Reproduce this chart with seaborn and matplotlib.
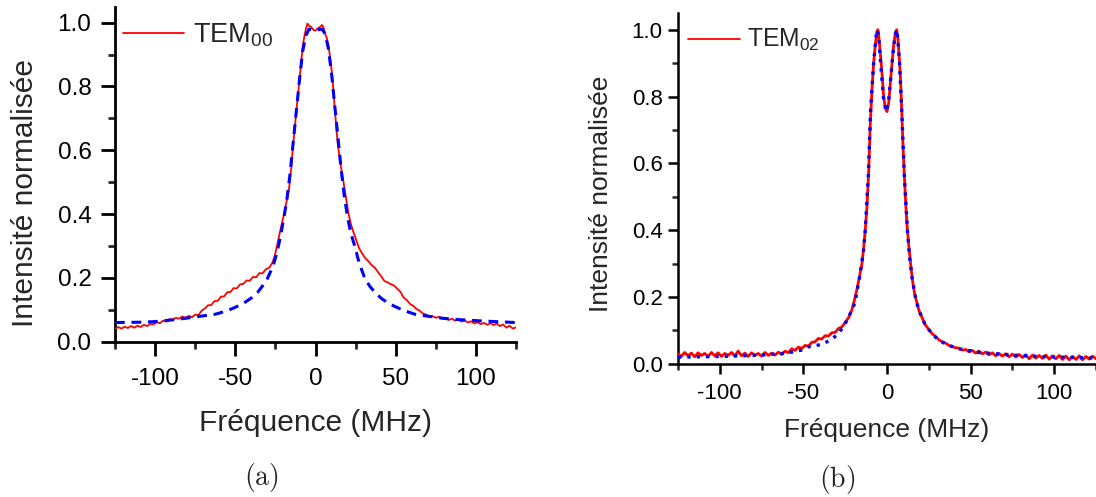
import matplotlib
matplotlib.use("Agg")
import matplotlib.pyplot as plt
import seaborn as sns
from matplotlib.ticker import MultipleLocator

# ---- panel (a) : TEM00, experimental trace (red) and fit (blue dashed)
freq_a = [-125, -123, -121, -119, -117, -115, -113, -111, -109, -107, -105, -103, -101,
          -99, -97, -95, -93, -91, -89, -87, -85, -83, -81, -79, -77, -75, -73, -71,
          -69, -67, -65, -63, -61, -59, -57, -55, -53, -51, -49, -47, -45, -43, -41,
          -39, -37, -35, -33, -31, -29, -27, -25.5, -24, -22.5, -21, -19.5, -18, -16.5,
          -15, -14, -12, -10, -8, -7, -6, -5, -4, -3, -2, -1, 0, 1, 2, 3, 4, 5, 6, 7,
          8, 9, 10.5, 12, 13.8, 15.5, 17.3, 19, 20.5, 22, 23.5, 25, 27, 29, 31, 33, 35,
          37, 39, 41, 43, 45, 47, 49, 51, 53, 55, 57, 59, 61, 63, 65, 67, 69, 71, 73,
          75, 77, 79, 81, 83, 85, 87, 89, 91, 93, 95, 97, 99, 101, 103, 105, 107, 109,
          111, 113, 115, 117, 119, 121, 123, 125]
mesure_a = [0.040, 0.046, 0.041, 0.047, 0.043, 0.049, 0.044, 0.050, 0.046, 0.053, 0.049,
            0.056, 0.054, 0.061, 0.058, 0.066, 0.063, 0.071, 0.068, 0.075, 0.072, 0.079,
            0.075, 0.081, 0.077, 0.085, 0.083, 0.097, 0.104, 0.114, 0.115, 0.127, 0.128,
            0.141, 0.142, 0.155, 0.156, 0.168, 0.167, 0.180, 0.181, 0.192, 0.191, 0.203,
            0.202, 0.215, 0.214, 0.227, 0.231, 0.246, 0.268, 0.300, 0.336, 0.370, 0.402,
            0.440, 0.480, 0.550, 0.615, 0.720, 0.820, 0.925, 0.955, 0.980, 0.997, 0.990,
            0.988, 0.982, 0.976, 0.975, 0.980, 0.984, 0.987, 0.993, 0.985, 0.965, 0.952,
            0.930, 0.895, 0.832, 0.730, 0.623, 0.560, 0.505, 0.450, 0.403, 0.370, 0.345,
            0.325, 0.295, 0.277, 0.262, 0.252, 0.240, 0.232, 0.218, 0.205, 0.190, 0.186,
            0.180, 0.176, 0.166, 0.156, 0.138, 0.130, 0.118, 0.112, 0.102, 0.097, 0.088,
            0.085, 0.079, 0.080, 0.075, 0.078, 0.072, 0.075, 0.068, 0.072, 0.066, 0.070,
            0.063, 0.067, 0.060, 0.064, 0.057, 0.061, 0.055, 0.059, 0.053, 0.058, 0.052,
            0.057, 0.049, 0.054, 0.044, 0.050, 0.041, 0.045]

freq_fit_a = [-125, -110, -100, -90, -80, -75, -70, -62.5, -55, -50, -45, -40, -36, -33,
              -30, -28, -26, -24, -22, -20, -18, -16, -14, -12, -10, -8, -6, -4, -2, 0,
              2, 4, 6, 8, 10, 12, 14, 16, 18, 20, 22, 24.6, 26.5, 28.8, 31, 34, 37, 41,
              45, 49.6, 55, 62, 70, 80, 90, 100, 112, 125]
fit_a = [0.060, 0.061, 0.063, 0.068, 0.074, 0.078, 0.081, 0.086, 0.097, 0.108, 0.120,
         0.137, 0.155, 0.175, 0.198, 0.220, 0.245, 0.280, 0.325, 0.380, 0.440, 0.520,
         0.620, 0.720, 0.820, 0.910, 0.960, 0.980, 0.978, 0.975, 0.978, 0.980, 0.965,
         0.920, 0.840, 0.740, 0.640, 0.540, 0.455, 0.390, 0.340, 0.298, 0.260, 0.225,
         0.195, 0.173, 0.155, 0.136, 0.122, 0.110, 0.098, 0.086, 0.080, 0.073, 0.069,
         0.066, 0.063, 0.060]

# ---- panel (b) : TEM02
freq_b = [-125, -123, -121, -119, -117, -115, -113, -111, -109, -107, -105, -103, -101,
          -99, -97, -95, -93, -91, -89, -87, -85, -83, -81, -79, -77, -75, -73, -71, -69,
          -67, -65, -63, -61, -59, -57, -55, -53, -51, -49, -47, -45, -43, -41, -39, -37,
          -35, -33, -31, -29, -27, -25, -23, -21, -19.5, -18, -16.5, -15, -14, -13, -12,
          -11, -10, -9, -8, -7, -6, -5.5, -5, -4, -3, -2, -1, 0, 1, 2, 3, 4, 5, 5.8, 6.5,
          7.4, 8, 8.8, 9.5, 10.4, 11.3, 12.2, 13, 14, 15.2, 16.5, 18, 19, 21, 23, 25, 27,
          29, 31, 33, 35, 37, 39, 41, 43, 45, 47, 49, 51, 53, 55, 57, 59, 61, 63, 65, 67,
          69, 71, 73, 75, 77, 79, 81, 83, 85, 87, 89, 91, 93, 95, 97, 99, 101, 103, 105,
          107, 109, 111, 113, 115, 117, 119, 121, 123, 125]
mesure_b = [0.030, 0.022, 0.034, 0.024, 0.032, 0.021, 0.033, 0.025, 0.031, 0.022, 0.034,
            0.024, 0.033, 0.022, 0.031, 0.025, 0.034, 0.023, 0.038, 0.024, 0.032, 0.022,
            0.033, 0.025, 0.031, 0.023, 0.034, 0.025, 0.032, 0.026, 0.035, 0.028, 0.038,
            0.033, 0.045, 0.040, 0.050, 0.046, 0.055, 0.053, 0.064, 0.066, 0.076, 0.074,
            0.084, 0.083, 0.093, 0.094, 0.106, 0.110, 0.124, 0.138, 0.162, 0.190, 0.222,
            0.260, 0.300, 0.345, 0.400, 0.470, 0.570, 0.720, 0.820, 0.900, 0.955, 0.995,
            1.000, 0.985, 0.930, 0.870, 0.800, 0.765, 0.755, 0.780, 0.840, 0.900, 0.955,
            0.990, 1.000, 0.975, 0.910, 0.860, 0.760, 0.660, 0.560, 0.470, 0.400, 0.355,
            0.305, 0.251, 0.210, 0.180, 0.161, 0.138, 0.116, 0.103, 0.090, 0.082, 0.072,
            0.066, 0.062, 0.055, 0.052, 0.048, 0.047, 0.041, 0.043, 0.036, 0.040, 0.032,
            0.038, 0.030, 0.035, 0.027, 0.033, 0.024, 0.031, 0.023, 0.030, 0.021, 0.029,
            0.020, 0.028, 0.019, 0.027, 0.015, 0.026, 0.017, 0.025, 0.016, 0.026, 0.014,
            0.024, 0.015, 0.025, 0.013, 0.023, 0.012, 0.022, 0.013, 0.024, 0.012, 0.022,
            0.014, 0.023, 0.015]

freq_fit_b = [-125, -100, -75, -60, -50, -47, -40, -34, -29, -25, -21, -19, -16, -14, -13,
              -11.2, -9.8, -8, -6.5, -5.8, -5, -3.5, -2, -0.5, 1, 2.5, 4, 5.5, 6.3, 7.4,
              8.8, 10.4, 12.2, 13.5, 15.2, 17, 19, 23, 27, 31, 37, 43, 55, 75, 95, 110, 125]
fit_b = [0.020, 0.022, 0.026, 0.032, 0.042, 0.051, 0.057, 0.070, 0.090, 0.120, 0.160,
         0.186, 0.271, 0.341, 0.400, 0.560, 0.760, 0.900, 0.980, 1.000, 0.980, 0.880,
         0.790, 0.755, 0.790, 0.870, 0.950, 1.000, 0.980, 0.910, 0.760, 0.560, 0.400,
         0.320, 0.250, 0.200, 0.160, 0.115, 0.090, 0.070, 0.055, 0.045, 0.034, 0.026,
         0.021, 0.019, 0.017]

xticks_major = [-100, -50, 0, 50, 100]
yticks_major = [0.0, 0.2, 0.4, 0.6, 0.8, 1.0]

sns.set_theme(style="ticks")
plt.rcParams['font.family'] = ['Liberation Sans', 'DejaVu Sans']
plt.rcParams['mathtext.default'] = 'regular'

fig = plt.figure(figsize=(10.96, 4.97), dpi=100)
ax_a = fig.add_axes([115 / 1096, 1 - 341.7 / 497, 401 / 1096, 335 / 497])
ax_b = fig.add_axes([678 / 1096, 1 - 363.8 / 497, 418 / 1096, 350.8 / 497])


def style_axis(ax, tick_fs, lab_fs, major_len, minor_len, spine_w, xpad, ypad):
    ax.set_xlim(-125, 125)
    ax.set_ylim(0, 1.05)
    ax.set_xticks(xticks_major)
    ax.set_yticks(yticks_major)
    ax.set_xticklabels([str(v) for v in xticks_major])
    ax.set_yticklabels([f"{v:.1f}" for v in yticks_major])
    ax.xaxis.set_minor_locator(MultipleLocator(25))
    ax.yaxis.set_minor_locator(MultipleLocator(0.1))
    for side in ['top', 'right']:
        ax.spines[side].set_visible(False)
    for side in ['left', 'bottom']:
        ax.spines[side].set_linewidth(spine_w)
        ax.spines[side].set_color('black')
    ax.tick_params(which='major', direction='out', length=major_len, width=spine_w,
                   labelsize=tick_fs, colors='black')
    ax.tick_params(which='minor', direction='out', length=minor_len, width=spine_w)
    ax.tick_params(axis='x', which='major', pad=xpad)
    ax.tick_params(axis='y', which='major', pad=ypad)
    ax.set_xlabel("Fréquence (MHz)", fontsize=lab_fs)
    ax.set_ylabel("Intensité normalisée", fontsize=lab_fs)
    ax.set_facecolor('white')


# panel (a)
sns.lineplot(x=freq_a, y=mesure_a, ax=ax_a, color='#ff0000', lw=1.3,
             estimator=None, label='TEM$_{00}$', zorder=3)
sns.lineplot(x=freq_fit_a, y=fit_a, ax=ax_a, color='#0000ff', lw=2.2,
             estimator=None, dashes=False, zorder=4)
ax_a.lines[-1].set_dashes((3.2, 2.2))
style_axis(ax_a, 17.5, 21.5, 10, 5, 2.0, 9, 7)
ax_a.xaxis.set_label_coords(0.499, -0.2)
ax_a.yaxis.set_label_coords(-0.19, 0.445)
ax_a.legend(handles=[ax_a.lines[0]], loc='center left', bbox_to_anchor=(0.02, 0.915),
            frameon=False, fontsize=19.5, handlelength=2.26, handletextpad=0.33,
            borderpad=0, borderaxespad=0)

# panel (b)
sns.lineplot(x=freq_b, y=mesure_b, ax=ax_b, color='#ff0000', lw=2.0,
             estimator=None, label='TEM$_{02}$', zorder=3)
sns.lineplot(x=freq_fit_b, y=fit_b, ax=ax_b, color='#0000ff', lw=2.4,
             estimator=None, zorder=4)
ax_b.lines[-1].set_dashes((1.0, 1.8))
style_axis(ax_b, 16, 19, 7, 4, 1.8, 6.5, 4)
ax_b.xaxis.set_label_coords(0.499, -0.155)
ax_b.yaxis.set_label_coords(-0.155, 0.485)
leg_b = ax_b.legend(handles=[ax_b.lines[0]], loc='center left', bbox_to_anchor=(0.024, 0.922),
                    frameon=False, fontsize=17.7, handlelength=2.13, handletextpad=0.26,
                    borderpad=0, borderaxespad=0)
for ln in leg_b.get_lines():
    ln.set_linewidth(1.3)

# captions
fig.text(261 / 1096, 1 - 478 / 497, r'$\mathrm{(a)}$', ha='center', va='center',
         fontsize=20, math_fontfamily='cm')
fig.text(837 / 1096, 1 - 479 / 497, r'$\mathrm{(b)}$', ha='center', va='center',
         fontsize=20, math_fontfamily='cm')

fig.savefig("out.png", dpi=100, facecolor='white')
